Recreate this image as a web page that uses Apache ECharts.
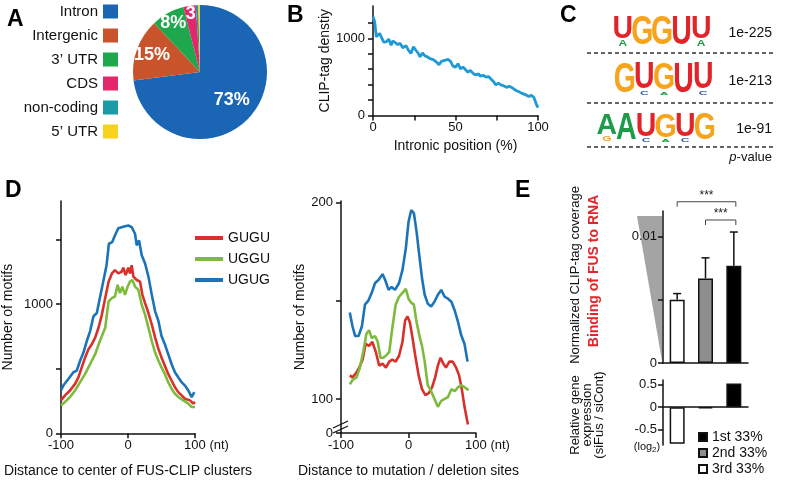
<!DOCTYPE html>
<html>
<head>
<meta charset="utf-8">
<script src="https://cdn.jsdelivr.net/npm/echarts@6/dist/echarts.min.js"></script>
<style>
  html, body { margin: 0; padding: 0; background: #fff; }
  #chart { width: 800px; height: 481px; }
</style>
</head>
<body>
<div id="chart"></div>
<script>
const FONT = '"Liberation Sans", Arial, Helvetica, sans-serif';

// A: where the CLIP tags fall
const pieNames = ['Intron', 'Intergenic', '3’ UTR', 'CDS', 'non-coding', '5’ UTR'];
const pieValues = [73, 15, 8, 3, 0.6, 0.4];
const pieLabels = ['73%', '15%', '8%', '3', '', ''];
const pieColors = ['#1a66b4', '#c9542b', '#1ea74c', '#e2276c', '#1b9aa8', '#f7d31f'];

// B: CLIP-tag density along introns, [position %, density]
const bDensity = [
  [0, 1280], [1, 1220], [2, 1020], [3, 1000], [4, 1065], [5, 1050], [6.5, 950], [8, 955],
  [9.5, 990], [11, 912], [12, 965], [13.5, 945], [15, 920], [16.5, 935], [18, 878], [20, 905],
  [21.5, 846], [23, 803], [24.5, 890], [26, 846], [27.5, 803], [28.5, 760], [30, 810], [31.5, 772],
  [33, 760], [34.5, 737], [36.5, 724], [38.5, 693], [40, 658], [41.5, 702], [43.5, 715], [45.5, 728],
  [47, 702], [48.5, 640], [50, 627], [51.5, 671], [53, 605], [54.5, 627], [56, 596], [57.5, 561],
  [59, 583], [61, 539], [62.5, 526], [64, 539], [65, 509], [67, 518], [68.5, 496], [70, 504],
  [71, 482], [73, 439], [74.5, 395], [76, 421], [77.5, 395], [79, 386], [81, 364], [82.5, 377],
  [84, 364], [85.5, 342], [87, 320], [88.5, 307], [90, 289], [91.5, 276], [93, 263], [94.5, 246],
  [96, 263], [97.5, 232], [98.5, 211], [99.3, 130], [100, 100]
];

// C: enriched motifs
const motifSeqs = ['UGGUU', 'GUGUU', 'AAUGUG'];
const motifHeights = [
  [0.78, 1, 1, 1, 0.78],
  [1, 0.86, 0.9, 1, 0.86],
  [0.8, 1, 0.86, 0.9, 0.86, 1]
];
const motifMinor = [
  ['A', '', '', '', 'A'],
  ['', 'C', 'A', '', 'C'],
  ['G', '', 'C', 'A', 'C', '']
];
const motifPvals = ['1e-225', '1e-213', '1e-91'];

// D: motif counts around cluster centres (left) and mutation sites (right)
const dNames = ['GUGU', 'UGGU', 'UGUG'];
const dColors = ['#d8312b', '#7dba3d', '#1b74b9'];
const dLeftGUGU = [
  [-100, 255], [-94, 294], [-86.5, 332], [-79, 383], [-74, 434], [-69, 511], [-64, 588], [-59, 652],
  [-54, 690], [-49, 741], [-44, 818], [-39, 920], [-34, 1048], [-29, 1175], [-24, 1239], [-19.5, 1265],
  [-14.5, 1239], [-9.5, 1252], [-7, 1283], [-3.5, 1226], [0.5, 1283], [3, 1239], [5.5, 1303], [8, 1214],
  [13, 1188], [18, 1175], [21.5, 1073], [25.5, 1009], [30.5, 932], [35.5, 843], [40.5, 741], [45.5, 652],
  [50, 588], [55, 524], [60, 460], [65, 409], [70, 358], [75, 319], [80, 294], [85, 268], [92.5, 255],
  [97.5, 230], [100, 243]
];
const dLeftUGGU = [
  [-100, 217], [-94, 243], [-86.5, 281], [-79, 332], [-71.5, 396], [-64, 460], [-56.5, 537], [-49, 613],
  [-42, 715], [-34, 818], [-29, 1022], [-24, 1048], [-19.5, 1060], [-15.5, 1150], [-12, 1086], [-8.5, 1137],
  [-4.5, 1073], [-0.5, 1137], [3, 1175], [6.5, 1188], [10.5, 1137], [15.5, 1111], [20.5, 996], [25.5, 920],
  [30.5, 818], [35.5, 715], [40.5, 626], [45.5, 562], [50, 511], [55, 460], [60, 396], [65, 345],
  [70, 307], [75, 281], [82.5, 255], [90, 230], [95, 204], [100, 204]
];
const dLeftUGUG = [
  [-100, 332], [-96.5, 370], [-89, 421], [-81.5, 473], [-76.5, 486], [-71.5, 562], [-66.5, 626], [-61.5, 715],
  [-56.5, 792], [-51.5, 907], [-46.5, 932], [-42, 1048], [-37, 1175], [-32, 1303], [-28.5, 1469], [-23.5, 1482],
  [-19.5, 1533], [-14.5, 1589], [-9.5, 1597], [-4.5, 1605], [0.5, 1610], [5.5, 1597], [10.5, 1546], [13, 1456],
  [16.5, 1495], [20.5, 1380], [25.5, 1316], [30.5, 1214], [35.5, 1073], [40.5, 945], [45.5, 869], [50, 754],
  [55, 690], [60, 613], [65, 537], [70, 473], [75, 434], [80, 396], [85, 370], [90, 332], [95, 281], [99, 319]
];
const dRightGUGU = [
  [-87, 112], [-83, 111], [-78, 113], [-73, 116], [-68, 120], [-63.5, 128], [-58.5, 127], [-53.5, 129],
  [-48.5, 124], [-43.5, 117], [-38.5, 118], [-33.5, 116], [-28.5, 119], [-24, 120], [-19, 119], [-14, 122],
  [-9, 129], [-5, 140], [-1.5, 142], [2, 139], [6, 131], [10, 122], [15, 112], [20, 105], [25, 102],
  [30, 103], [35, 106], [39.5, 111], [43.5, 117], [47.5, 121], [51.5, 118], [55.5, 116], [60.5, 119],
  [65.5, 119], [70.5, 116], [75, 112], [79, 105], [83, 96], [88, 87]
];
const dRightUGGU = [
  [-87, 107.5], [-82, 110], [-77, 111], [-72, 116], [-67, 124], [-62.5, 133], [-58.5, 135], [-54.5, 131],
  [-49.5, 132], [-45.5, 129], [-41.5, 121], [-37.5, 121], [-33.5, 122], [-28.5, 124], [-24, 136], [-19, 148],
  [-14, 152], [-9, 154], [-4, 156], [0, 151], [4, 149], [8, 148], [12, 139], [16, 132.5], [20, 127],
  [24, 119], [28.5, 107], [33.5, 104], [38.5, 100], [43.5, 96], [48.5, 99], [53.5, 100], [58.5, 101],
  [63.5, 105], [68.5, 104], [73.5, 106], [78, 107], [83, 106], [89, 104.5]
];
const dRightUGUG = [
  [-87, 144], [-83, 137], [-79, 132], [-74, 132], [-69, 137], [-64.5, 148], [-59.5, 150], [-54.5, 154],
  [-49.5, 159], [-44.5, 160.5], [-38.5, 163.5], [-34.5, 160.5], [-29.5, 155.5], [-25, 157], [-20, 155.5],
  [-14, 159], [-9, 165.5], [-4, 176.5], [0, 190], [4, 196], [8, 194.5], [12, 185], [16, 173], [20, 161.5],
  [24, 153], [28.5, 148.5], [33.5, 147], [38.5, 149.5], [43.5, 153], [48.5, 155.5], [53.5, 152],
  [58.5, 151], [63.5, 149.5], [68.5, 145], [73.5, 139], [78, 132.5], [83, 128], [87.5, 119]
];

// E: binding vs expression change, by binding tercile
const eCats = ['3rd 33%', '2nd 33%', '1st 33%'];
const eLegend = ['1st 33%', '2nd 33%', '3rd 33%'];
const eBinding = [0.0050, 0.00668, 0.00768];
const eBindingUpper = [0.00548, 0.0083, 0.01034];
const eExpr = [-0.82, -0.03, 0.53];
const eSigPairs = [[0, 2], [1, 2]];
const eSigLevel = [0.01273, 0.01129];
const eSigText = ['***', '***'];
const eFill = ['#ffffff', '#8e8e8e', '#000000'];

// ---------- axes ----------
const axisBase = {
  axisLine: { show: true, onZero: false, lineStyle: { color: '#111', width: 1.5 } },
  axisTick: { show: true, length: 5, lineStyle: { color: '#111', width: 1.5 } },
  axisLabel: { color: '#111', fontSize: 13, fontFamily: FONT, formatter: (v) => String(v) },
  splitLine: { show: false },
  nameTextStyle: { color: '#111', fontSize: 14, fontFamily: FONT }
};
const axis = (extra) => echarts.util.merge(echarts.util.clone(axisBase), extra, true);

const ntLabel = {
  customValues: [-100, 0, 100],
  margin: 6,
  formatter: (v) => (v === 100 ? '{pad|}100 (nt)' : String(v)),
  rich: { pad: { width: 23 } }
};

const xAxes = [
  axis({ gridIndex: 0, type: 'value', min: 0, max: 100,
    axisTick: { customValues: [0, 25, 50, 75, 100] },
    axisLabel: { customValues: [0, 50, 100], margin: 6 },
    name: 'Intronic position (%)', nameLocation: 'middle', nameGap: 24 }),
  axis({ gridIndex: 1, type: 'value', min: -100, max: 100,
    axisTick: { customValues: [-100, 0, 100] }, axisLabel: ntLabel,
    name: 'Distance to center of FUS-CLIP clusters', nameLocation: 'middle', nameGap: 31 }),
  axis({ gridIndex: 2, type: 'value', min: -100, max: 100,
    axisTick: { customValues: [-100, 0, 100] }, axisLabel: ntLabel,
    name: 'Distance to mutation / deletion sites', nameLocation: 'middle', nameGap: 31 }),
  axis({ gridIndex: 3, type: 'category', data: eCats,
    axisTick: { show: false }, axisLabel: { show: false } }),
  axis({ gridIndex: 4, type: 'category', data: eCats,
    axisLine: { onZero: true }, axisTick: { show: false }, axisLabel: { show: false } })
];

const yAxes = [
  axis({ gridIndex: 0, type: 'value', min: 0, max: 1420,
    axisTick: { customValues: [0, 200, 400, 600, 800, 1000, 1200] },
    axisLabel: { customValues: [0, 1000], margin: 8 },
    name: 'CLIP-tag denstiy', nameLocation: 'middle', nameGap: 38 }),
  axis({ gridIndex: 1, type: 'value', min: 0, max: 1800,
    axisTick: { customValues: [0, 500, 1000, 1500] },
    axisLabel: { customValues: [0, 1000], margin: 8 },
    name: 'Number of motifs', nameLocation: 'middle', nameGap: 46 }),
  axis({ gridIndex: 2, type: 'value', min: 82.7, max: 200.7,
    axisTick: { customValues: [82.7, 100, 150, 200] },
    axisLabel: { customValues: [82.7, 100, 200], margin: 8,
      formatter: (v) => (v < 90 ? '0' : String(v)) },
    name: 'Number of motifs', nameLocation: 'middle', nameGap: 17 }),
  axis({ gridIndex: 3, type: 'value', min: 0, max: 0.012,
    axisTick: { customValues: [0, 0.005, 0.01] },
    axisLabel: { customValues: [0, 0.01], margin: 6 } }),
  axis({ gridIndex: 4, type: 'value', min: -0.85, max: 0.61,
    axisTick: { customValues: [-0.5, 0, 0.5] },
    axisLabel: { customValues: [-0.5, 0, 0.5], margin: 6 } })
];

const grid = (left, top, width, height) => ({ left, top, width, height, outerBoundsMode: 'none', containLabel: false });

// ---------- series ----------
const series = [];

series.push({
  type: 'pie',
  center: [200, 72],
  radius: 67,
  startAngle: 90,
  clockwise: true,
  silent: true,
  emphasis: { disabled: true },
  data: pieNames.map((n, i) => ({ name: n, value: pieValues[i], itemStyle: { color: pieColors[i] } })),
  label: {
    show: true, position: 'inside', color: '#fff', fontWeight: 'bold', fontSize: 18,
    formatter: (p) => pieLabels[p.dataIndex]
  },
  labelLine: { show: false },
  // push the inside labels outward like in the figure
  labelLayout: (p) => {
    const f = [0.58, 0.7, 0.76, 0.81, 0, 0][p.dataIndex];
    if (!f) return {};
    const r = p.labelRect;
    const k = f / 0.5 - 1;
    return { dx: (r.x + r.width / 2 - 200) * k, dy: (r.y + r.height / 2 - 72) * k };
  }
});

series.push({
  type: 'line', xAxisIndex: 0, yAxisIndex: 0, data: bDensity, showSymbol: false, silent: true,
  lineStyle: { color: '#1e9ad6', width: 2.8 }, itemStyle: { color: '#1e9ad6' }
});

[[dLeftGUGU, dLeftUGGU, dLeftUGUG], [dRightGUGU, dRightUGGU, dRightUGUG]].forEach((set, g) => {
  set.forEach((data, i) => {
    series.push({
      name: dNames[i], type: 'line', xAxisIndex: g + 1, yAxisIndex: g + 1, data,
      showSymbol: false, silent: true,
      lineStyle: { color: dColors[i], width: 2.6 }, itemStyle: { color: dColors[i] }
    });
  });
});

eCats.forEach((c, i) => {
  const style = { color: eFill[i], borderColor: '#111', borderWidth: 1.5 };
  series.push({
    name: c, type: 'bar', xAxisIndex: 3, yAxisIndex: 3, stack: 'bind', barWidth: 15, silent: true,
    data: eBinding.map((v, j) => (j === i ? v : '-')), itemStyle: style
  });
  series.push({
    name: c, type: 'bar', xAxisIndex: 4, yAxisIndex: 4, stack: 'expr', barWidth: 15, silent: true,
    data: eExpr.map((v, j) => (j === i ? v : '-')), itemStyle: style
  });
});

// error bars (upper only)
series.push({
  type: 'custom', xAxisIndex: 3, yAxisIndex: 3, silent: true, z: 5,
  encode: { x: 0, y: [1, 2] },
  data: eBinding.map((v, i) => [i, v, eBindingUpper[i]]),
  renderItem: (params, api) => {
    const b = api.coord([api.value(0), api.value(1)]);
    const t = api.coord([api.value(0), api.value(2)]);
    const st = { stroke: '#111', lineWidth: 1.5 };
    return { type: 'group', children: [
      { type: 'line', shape: { x1: b[0], y1: b[1], x2: t[0], y2: t[1] }, style: st },
      { type: 'line', shape: { x1: t[0] - 4, y1: t[1], x2: t[0] + 4, y2: t[1] }, style: st }
    ] };
  }
});

// significance brackets
series.push({
  type: 'custom', xAxisIndex: 3, yAxisIndex: 3, silent: true, z: 5,
  encode: { x: [0, 1], y: 2 },
  data: eSigPairs.map((p, i) => [p[0], p[1], eSigLevel[i], eSigText[i]]),
  renderItem: (params, api) => {
    const a = api.coord([api.value(0), api.value(2)]);
    const b = api.coord([api.value(1), api.value(2)]);
    return { type: 'group', children: [
      { type: 'polyline', shape: { points: [[a[0], a[1] + 5], a, [b[0] + 2, b[1]], [b[0] + 2, b[1] + 5]] },
        style: { stroke: '#444', lineWidth: 1, fill: null } },
      { type: 'text', x: (a[0] + b[0]) / 2 + 1, y: a[1] - 6,
        style: { text: eSigText[params.dataIndex], fontSize: 12, fontFamily: FONT, fill: '#222',
          align: 'center', verticalAlign: 'middle' } }
    ] };
  }
});

// ---------- graphics: panel letters, motif logos, annotations ----------
const graphics = [];
const textEl = (x, y, text, style, extra) => Object.assign({
  type: 'text', x, y, silent: true,
  style: Object.assign({ text, fontFamily: FONT, fontSize: 14, fill: '#111', align: 'left', verticalAlign: 'middle' }, style)
}, extra);

[['A', 7, 19.5], ['B', 287, 16], ['C', 560, 15.8], ['D', 5, 190.5], ['E', 515, 190.5]].forEach(([t, x, y]) => {
  graphics.push(textEl(x, y, t, { fontSize: 23, fontWeight: 'bold', fill: '#000' }));
});

const letterColor = { U: '#e2232a', G: '#f5a41c', A: '#1c9b48', C: '#3559ad' };
const logoRows = [{ x0: 613, top: 18, bottom: 47 }, { x0: 615, top: 65, bottom: 95 }, { x0: 597, top: 115, bottom: 142 }];
const SLOT = 19.6, LF = 30, CAP = 0.716;
motifSeqs.forEach((seq, r) => {
  const box = logoRows[r];
  const full = box.bottom - box.top;
  seq.split('').forEach((ch, k) => {
    const cx = box.x0 + SLOT * (k + 0.5);
    const h = full * motifHeights[r][k];
    graphics.push(textEl(cx, box.top + h / 2, ch,
      { fontSize: LF, fontWeight: 'bold', fill: letterColor[ch], align: 'center' },
      { scaleX: 0.95, scaleY: h / (CAP * LF) }));
    const minor = motifMinor[r][k];
    if (minor && full - h > 1) {
      const mh = full - h;
      graphics.push(textEl(cx, box.top + h + mh / 2, minor,
        { fontSize: 12, fontWeight: 'bold', fill: letterColor[minor], align: 'center' },
        { scaleX: 1, scaleY: mh / (CAP * 12) }));
    }
  });
  graphics.push(textEl(772, (box.top + box.bottom) / 2 + 1, motifPvals[r], { fontSize: 14, align: 'right' }));
});
[53, 103, 147].forEach((y) => {
  graphics.push({ type: 'line', silent: true, shape: { x1: 587, y1: y, x2: 775, y2: y },
    style: { stroke: '#333', lineWidth: 1.5, lineDash: [4, 3] } });
});
graphics.push(textEl(772, 157, '{i|p}-value', { fontSize: 13, align: 'right',
  rich: { i: { fontStyle: 'italic', fontSize: 13, fontFamily: FONT } } }));

// broken y axis marks (panel D right)
graphics.push({ type: 'line', silent: true, shape: { x1: 333, y1: 428, x2: 348, y2: 421 }, style: { stroke: '#111', lineWidth: 1.3 } });
graphics.push({ type: 'line', silent: true, shape: { x1: 333, y1: 433, x2: 348, y2: 426 }, style: { stroke: '#111', lineWidth: 1.3 } });

// panel E decorations
graphics.push({ type: 'polygon', silent: true, shape: { points: [[637, 216], [662, 216], [662, 361]] },
  style: { fill: '#a4a4a4' } });
graphics.push(textEl(575, 275, 'Normalized CLIP-tag coverage', { fontSize: 13, align: 'center' }, { rotation: Math.PI / 2 }));
graphics.push(textEl(594, 271, 'Binding of FUS to RNA', { fontSize: 14, fontWeight: 'bold', fill: '#e3242b', align: 'center' }, { rotation: Math.PI / 2 }));
graphics.push(textEl(587, 415, 'Relative gene\nexpression\n(siFus / siCont)', { fontSize: 13, lineHeight: 12, align: 'center' }, { rotation: Math.PI / 2 }));
graphics.push(textEl(647, 447, '(log{s|2})', { fontSize: 11, align: 'center',
  rich: { s: { fontSize: 8, padding: [6, 0, 0, 0], fontFamily: FONT } } }));

// ---------- chart ----------
const chart = echarts.init(document.getElementById('chart'), null, { renderer: 'canvas' });
chart.setOption({
  animation: false,
  backgroundColor: '#fff',
  textStyle: { fontFamily: FONT },
  grid: [
    grid(373, 6, 165, 109.4),
    grid(61, 201, 134, 232.3),
    grid(341, 201, 135, 232),
    grid(663, 211, 85, 152),
    grid(663, 380, 85, 65)
  ],
  xAxis: xAxes,
  yAxis: yAxes,
  legend: [
    { data: pieNames, orient: 'vertical', right: 682, top: 4, padding: 0, align: 'right', icon: 'rect',
      itemWidth: 15, itemHeight: 14, itemGap: 9, selectedMode: false,
      textStyle: { fontSize: 15, color: '#111', fontFamily: FONT } },
    { data: dNames, orient: 'vertical', left: 195, top: 231, padding: 0, icon: 'rect',
      itemWidth: 28, itemHeight: 4, itemGap: 7, selectedMode: false,
      textStyle: { fontSize: 14, color: '#111', fontFamily: FONT } },
    { data: eLegend, orient: 'vertical', left: 698, top: 430, padding: 0, icon: 'rect',
      itemWidth: 8, itemHeight: 8, itemGap: 2, selectedMode: false,
      textStyle: { fontSize: 14, color: '#111', fontFamily: FONT } }
  ],
  graphic: { elements: graphics },
  series
});
</script>
</body>
</html>
